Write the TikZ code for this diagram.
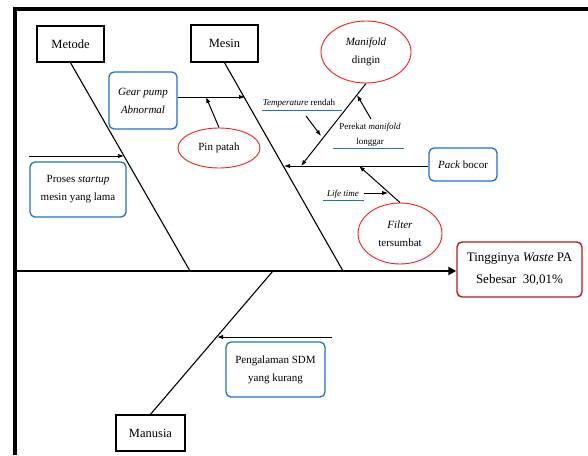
\documentclass[tikz,border=0pt]{standalone}
\usepackage{fontspec}
\setmainfont{Liberation Serif}
\usetikzlibrary{arrows.meta,calc,shapes.geometric}
\definecolor{boxblue}{HTML}{1F73C4}
\definecolor{ellred}{HTML}{EE2020}
\definecolor{darkred}{HTML}{C0161E}
\begin{document}
\begin{tikzpicture}[x=1pt,y=-1pt,
  catbox/.style={draw, line width=1.4pt, inner sep=0pt, font=\fontsize{12.5}{15}\selectfont},
  bluebox/.style={draw=boxblue, line width=1.3pt, rounded corners=5pt, align=center, inner sep=0pt, font=\fontsize{11}{18}\selectfont},
  redell/.style={ellipse, draw=ellred, line width=0.9pt, align=center, inner sep=0pt, font=\fontsize{11}{18}\selectfont},
  effectbox/.style={draw=darkred, line width=1.4pt, rounded corners=5pt, align=center, inner sep=0pt, font=\fontsize{13}{22}\selectfont},
  smalltxt/.style={inner sep=0pt, align=center, font=\fontsize{9}{15}\selectfont},
  bone/.style={line width=1.1pt},
  arr/.style={line width=1.0pt, -{Latex[length=6pt,width=4.5pt]}},
  uline/.style={draw=boxblue, line width=1pt}]
\useasboundingbox (0,0) rectangle (588,455);
% frame
\draw[line width=3.5pt] (15,455) -- (15,9) -- (588,9);
% category boxes
\node[catbox, minimum width=67pt, minimum height=36pt] (metode) at (70.5,44) {Metode};
\node[catbox, minimum width=67pt, minimum height=37pt] (mesin) at (224.5,43.5) {Mesin};
\node[catbox, minimum width=69pt, minimum height=36pt] (manusia) at (150.5,433) {Manusia};
% effect
\node[effectbox, minimum width=125pt, minimum height=55pt] (effect) at (519.5,269.5) {Tingginya \textit{Waste} PA\\Sebesar\ \ 30,01\%};
% spine
\coordinate (spineL) at (15,271);
\draw[line width=2.6pt, -{Triangle[length=8pt,width=8pt]}] (spineL) -- (spineL -| effect.west);
% bones
\coordinate (metodeJ) at (190,271);
\coordinate (mesinJ) at (343,271);
\coordinate (manusiaJ) at (273,271);
\draw[bone] (metode.south) -- (metodeJ);
\draw[bone] (mesin.south) -- (mesinJ);
\draw[bone] (manusia.north) -- (manusiaJ);
% cause boxes
\node[bluebox, minimum width=68pt, minimum height=57pt] (gear) at (143,100.5) {\textit{Gear pump}\\\textit{Abnormal}};
\node[bluebox, minimum width=96pt, minimum height=55pt] (proses) at (78,189.5) {Proses \textit{startup}\\mesin yang lama};
\node[bluebox, minimum width=99pt, minimum height=55pt] (peng) at (275.5,369.5) {Pengalaman SDM\\yang kurang};
\node[bluebox, minimum width=68pt, minimum height=33pt] (pack) at (463,164.5) {\textit{Pack} bocor};
% ellipses
\node[redell, minimum width=90pt, minimum height=62pt] (manifold) at (366,52) {\textit{Manifold}\\dingin};
\node[redell, minimum width=82pt, minimum height=40pt] (pin) at (219,148) {Pin patah};
\node[redell, minimum width=84pt, minimum height=61pt] (filter) at (400,233.5) {\textit{Filter}\\tersumbat};
% small texts
\node[smalltxt] (temp) at (299,103) {\textit{Temperature} rendah};
\draw[uline] (262,110) -- (342,110);
\node[smalltxt] (perekat) at (370,134.5) {Perekat \textit{manifold}\\longgar};
\draw[uline] (333,148) -- (404,148);
\node[smalltxt] (life) at (343,194) {\textit{Life time}};
\draw[uline] (323,200) -- (364,200);
% junction coordinates
\coordinate (gearJ) at (245,97);
\coordinate (pinJ) at (206,97);
\coordinate (prosesS) at (29,156);
\coordinate (prosesJ) at (124,156);
\coordinate (pengS) at (332,337);
\coordinate (pengJ) at (217,337);
\coordinate (packJ) at (284,166);
\coordinate (manifoldJ) at (301,166);
\coordinate (tempS) at (306,116);
\coordinate (tempJ) at (321,136);
\coordinate (perekatS) at (371,119);
\coordinate (perekatJ) at (357,95);
\coordinate (filterJ) at (359,166);
\coordinate (lifeS) at (364,193);
\coordinate (lifeJ) at (388,193);
% arrows
\draw[arr] (gear.east |- gearJ) -- (gearJ);
\draw[arr] (pin.north) -- (pinJ);
\draw[arr] (prosesS) -- (prosesJ);
\draw[arr] (pengS) -- (pengJ);
\draw[arr] (pack.west |- packJ) -- (packJ);
\draw[arr] (manifold.south) -- (manifoldJ);
\draw[arr] (tempS) -- (tempJ);
\draw[arr] (perekatS) -- (perekatJ);
\draw[arr] (filter.north) -- (filterJ);
\draw[arr] (lifeS) -- (lifeJ);
\end{tikzpicture}
\end{document}
